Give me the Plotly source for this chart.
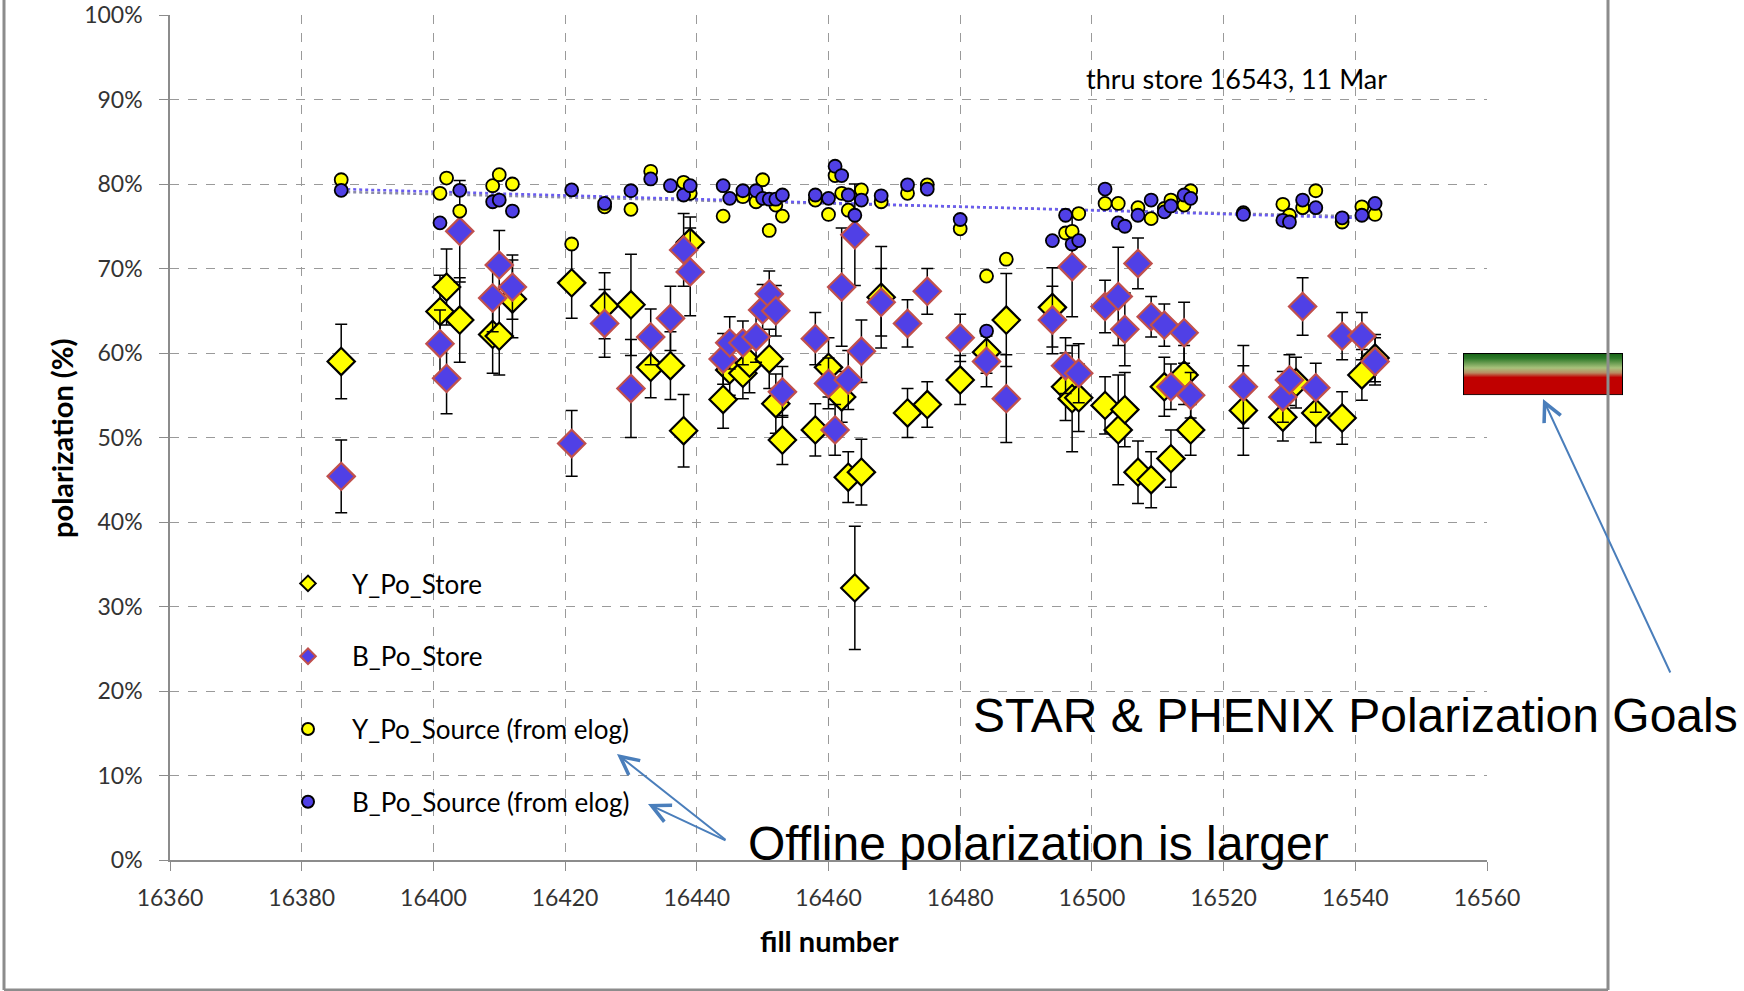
import base64
import numpy as np
import plotly.graph_objects as go

# ---------------- data ----------------
y_store_fill = [16386, 16401, 16402, 16404, 16409, 16410, 16412, 16421, 16426, 16430,
                16433, 16436, 16438, 16439, 16444, 16445, 16447, 16448, 16451, 16452,
                16453, 16458, 16460, 16462, 16463, 16465, 16464, 16468, 16472, 16475,
                16480, 16484, 16487, 16494, 16496, 16497, 16498, 16502, 16504, 16505,
                16507, 16509, 16511, 16512, 16514, 16515, 16523, 16529, 16531, 16534,
                16538, 16541, 16543]
y_store_pol = [59.0, 64.9, 67.8, 63.9, 62.2, 62.0, 66.4, 68.3, 65.6, 65.7,
               58.3, 58.5, 50.8, 73.1, 54.5, 58.0, 57.6, 58.8, 59.3, 54.0,
               49.7, 50.9, 58.3, 54.8, 45.3, 45.9, 32.2, 66.6, 52.9, 53.9,
               56.8, 60.1, 63.9, 65.4, 56.0, 54.6, 54.7, 53.8, 50.9, 53.3,
               45.9, 45.0, 56.0, 47.5, 57.4, 50.9, 53.2, 52.4, 56.5, 52.9,
               52.3, 57.4, 59.4]
y_store_err = [4.4, 4.3, 4.5, 5.0, 4.6, 4.6, 4.6, 4.2, 3.9, 6.0,
               3.6, 4.0, 4.3, 3.0, 3.4, 3.0, 3.0, 3.5, 3.5, 3.5,
               2.9, 3.1, 3.5, 3.0, 3.0, 3.9, 7.3, 6.0, 2.9, 2.7,
               2.9, 2.5, 5.5, 4.7, 4.0, 6.3, 4.0, 3.4, 6.5, 4.4,
               3.7, 3.3, 3.5, 3.4, 3.5, 3.0, 5.3, 2.8, 3.0, 3.5,
               3.1, 3.0, 2.8]

b_store_fill = [16386, 16401, 16402, 16404, 16409, 16410, 16412, 16421, 16426, 16430,
                16433, 16436, 16438, 16439, 16444, 16445, 16447, 16449, 16450, 16451,
                16452, 16453, 16458, 16460, 16461, 16462, 16463, 16464, 16465, 16468,
                16472, 16475, 16480, 16484, 16487, 16494, 16496, 16497, 16498, 16502,
                16504, 16505, 16507, 16509, 16511, 16512, 16514, 16515, 16523, 16529,
                16530, 16532, 16534, 16538, 16541, 16543]
b_store_pol = [45.4, 61.1, 57.0, 74.4, 66.5, 70.4, 67.8, 49.3, 63.5, 55.8,
               61.9, 64.1, 72.2, 69.6, 59.3, 61.2, 61.2, 61.9, 65.1, 67.0,
               65.0, 55.4, 61.7, 56.4, 50.9, 67.8, 56.8, 74.0, 60.2, 66.0,
               63.5, 67.3, 61.8, 59.0, 54.6, 63.9, 58.5, 70.2, 57.6, 65.5,
               66.7, 62.8, 70.6, 64.3, 63.3, 56.0, 62.4, 55.0, 56.0, 54.8,
               56.8, 65.5, 55.9, 62.0, 62.0, 59.0]
b_store_err = [4.3, 4.0, 4.2, 6.0, 4.0, 4.1, 3.8, 3.9, 4.0, 5.8,
               3.3, 3.8, 4.3, 5.2, 3.0, 3.1, 2.6, 3.0, 3.0, 2.7,
               3.0, 3.0, 3.1, 3.0, 3.0, 7.0, 3.5, 6.0, 3.7, 4.0,
               2.8, 2.7, 2.8, 3.0, 5.2, 4.0, 3.3, 5.9, 3.5, 3.1,
               5.8, 4.3, 3.0, 2.4, 2.5, 2.7, 3.6, 2.7, 4.9, 3.0,
               3.0, 3.4, 2.9, 2.8, 2.8, 2.8]

y_src_fill = [16386, 16401, 16402, 16404, 16409, 16410, 16412, 16421, 16426, 16430,
              16433, 16438, 16439, 16444, 16447, 16449, 16450, 16451, 16452, 16453,
              16458, 16460, 16461, 16462, 16463, 16465, 16468, 16472, 16475, 16480,
              16484, 16487, 16496, 16497, 16498, 16502, 16504, 16507, 16509, 16511,
              16512, 16514, 16515, 16523, 16529, 16530, 16532, 16534, 16538, 16541,
              16543]
y_src_pol = [80.5, 78.9, 80.7, 76.8, 79.8, 81.1, 80.0, 72.9, 77.3, 77.0,
             81.5, 80.2, 78.9, 76.2, 78.5, 77.9, 80.5, 74.5, 77.5, 76.2,
             78.1, 76.4, 81.0, 78.9, 76.9, 79.3, 77.9, 78.9, 79.9, 74.7,
             69.1, 71.1, 74.2, 74.4, 76.5, 77.7, 77.7, 77.2, 75.9, 77.1,
             78.1, 77.5, 79.2, 76.6, 77.6, 76.3, 77.2, 79.2, 75.5, 77.3,
             76.4]

b_src_fill = [16386, 16401, 16404, 16409, 16410, 16412, 16421, 16426, 16430, 16433,
              16436, 16438, 16439, 16444, 16445, 16447, 16449, 16450, 16451, 16452,
              16453, 16458, 16460, 16461, 16462, 16463, 16464, 16465, 16468, 16472,
              16475, 16480, 16484, 16494, 16496, 16497, 16498, 16502, 16504, 16505,
              16507, 16509, 16511, 16512, 16514, 16515, 16523, 16529, 16530, 16532,
              16534, 16538, 16541, 16543]
b_src_pol = [79.25, 75.4, 79.25, 77.9, 78.1, 76.8, 79.3, 77.7, 79.2, 80.6,
             79.8, 78.7, 79.8, 79.8, 78.3, 79.2, 79.2, 78.3, 78.2, 78.2,
             78.7, 78.7, 78.3, 82.1, 81.0, 78.7, 76.3, 78.1, 78.6, 79.9,
             79.4, 75.8, 62.6, 73.3, 76.3, 72.9, 73.3, 79.4, 75.4, 75.0,
             76.3, 78.1, 76.7, 77.4, 78.7, 78.3, 76.4, 75.7, 75.5, 78.1,
             77.2, 76.0, 76.3, 77.7]

x_ticks = [16360, 16380, 16400, 16420, 16440, 16460, 16480, 16500, 16520, 16540, 16560]
x_tick_labels = [str(v) for v in x_ticks]
y_ticks = [0, 10, 20, 30, 40, 50, 60, 70, 80, 90, 100]
y_tick_labels = [f"{v}%" for v in y_ticks]
goal_range = [55, 60]

# ---------------- styles ----------------
YEL = "#FFFF00"
BLU = "#5040E6"
BEDGE = "#C0504D"
TICKFONT = dict(family="Lato, Carlito, Calibri, sans-serif", size=23, color="#333333")
ARROW = "#4A7EBB"

fig = go.Figure()

# trendlines (linear fits of source values)
for fills, pols, col in [(y_src_fill, y_src_pol, "#8C8CA8"), (b_src_fill, b_src_pol, "#6A5CF0")]:
    k, c = np.polyfit(fills, pols, 1)
    xs = np.array([min(fills), max(fills)], dtype=float)
    fig.add_trace(go.Scatter(x=xs, y=k * xs + c, mode="lines", showlegend=False,
                             hoverinfo="skip",
                             line=dict(color=col, width=2.5, dash="dot")))

fig.add_trace(go.Scatter(
    x=y_store_fill, y=y_store_pol, mode="markers", name="Y_Po_Store", legendgroup="a",
    error_y=dict(type="data", array=y_store_err, color="black", thickness=1.5, width=6),
    marker=dict(symbol="diamond", size=21, color=YEL, line=dict(color="black", width=2.2))))
fig.add_trace(go.Scatter(
    x=b_store_fill, y=b_store_pol, mode="markers", name="B_Po_Store", legendgroup="b",
    error_y=dict(type="data", array=b_store_err, color="black", thickness=1.5, width=6),
    marker=dict(symbol="diamond", size=21, color=BLU, line=dict(color=BEDGE, width=2.2))))
fig.add_trace(go.Scatter(
    x=y_src_fill, y=y_src_pol, mode="markers", name="Y_Po_Source (from elog)", legendgroup="c",
    marker=dict(symbol="circle", size=13, color=YEL, line=dict(color="black", width=1.8))))
fig.add_trace(go.Scatter(
    x=b_src_fill, y=b_src_pol, mode="markers", name="B_Po_Source (from elog)", legendgroup="d",
    marker=dict(symbol="circle", size=13, color=BLU, line=dict(color="black", width=1.8))))

# ---- geometry helpers (paper coords from layout margins) ----
W, H = 1744, 991
ML, MR, MT, MB = 170, 257, 15, 131
PW, PH = W - ML - MR, H - MT - MB


def px(xp):
    return (xp - ML) / PW


def py(yp):
    return (H - MB - yp) / PH


shapes = [
    dict(type="line", xref="paper", yref="paper", x0=px(4), x1=px(4), y0=py(990), y1=py(-5),
         line=dict(color="#8C8C8C", width=3)),
    dict(type="line", xref="paper", yref="paper", x0=px(1608), x1=px(1608), y0=py(990), y1=py(-5),
         line=dict(color="#8C8C8C", width=3)),
    dict(type="line", xref="paper", yref="paper", x0=px(4), x1=px(1608), y0=py(990), y1=py(990),
         line=dict(color="#8C8C8C", width=3)),
]

# goal box as gradient image (green -> red) spanning goal_range
svg = ('<svg xmlns="http://www.w3.org/2000/svg" width="160" height="42" viewBox="0 0 160 42" '
       'preserveAspectRatio="none"><defs><linearGradient id="g" x1="0" y1="0" x2="0" y2="1">'
       '<stop offset="0" stop-color="#176317"/><stop offset="0.12" stop-color="#2F7A2A"/>'
       '<stop offset="0.35" stop-color="#A9C27C"/><stop offset="0.47" stop-color="#B98A62"/>'
       '<stop offset="0.58" stop-color="#C00000"/><stop offset="1" stop-color="#C00000"/>'
       '</linearGradient></defs><rect x="0.5" y="0.5" width="159" height="41" fill="url(#g)" '
       'stroke="#000" stroke-width="1"/></svg>')
src = "data:image/svg+xml;base64," + base64.b64encode(svg.encode()).decode()
images = [dict(source=src, xref="paper", yref="paper", x=px(1463), y=goal_range[1] / 100,
               sizex=px(1623) - px(1463), sizey=(goal_range[1] - goal_range[0]) / 100,
               xanchor="left", yanchor="top", sizing="stretch", layer="above")]

annotations = [
    dict(text="thru store 16543, 11 Mar", xref="paper", yref="paper", x=px(1084), y=py(79),
         xanchor="left", yanchor="middle", showarrow=False,
         font=dict(family="Lato, Carlito, sans-serif", size=27, color="black")),
    dict(text="STAR &amp; PHENIX Polarization Goals", xref="paper", yref="paper", x=px(971), y=py(715),
         xanchor="left", yanchor="middle", showarrow=False,
         font=dict(family="Liberation Sans, Arial, sans-serif", size=48, color="black")),
    dict(text="Offline polarization is larger", xref="paper", yref="paper", x=px(746), y=py(843),
         xanchor="left", yanchor="middle", showarrow=False,
         font=dict(family="Liberation Sans, Arial, sans-serif", size=48, color="black")),
    dict(text="", xref="paper", yref="paper", x=px(1543), y=py(399), ax=128, ay=275,
         showarrow=True, arrowhead=5, arrowsize=1.8, arrowwidth=2, arrowcolor=ARROW),
    dict(text="", xref="paper", yref="paper", x=px(617), y=py(754), ax=110, ay=87,
         showarrow=True, arrowhead=5, arrowsize=1.8, arrowwidth=2, arrowcolor=ARROW),
    dict(text="", xref="paper", yref="paper", x=px(648), y=py(804), ax=79, ay=37,
         showarrow=True, arrowhead=5, arrowsize=1.8, arrowwidth=2, arrowcolor=ARROW),
    dict(text="<b>polarization (%)</b>", xref="paper", yref="paper", x=px(61), y=py(438),
         textangle=-90, showarrow=False, xanchor="center", yanchor="middle",
         font=dict(family="Lato, Carlito, sans-serif", size=29, color="black")),
    dict(text="<b>fill number</b>", xref="paper", yref="paper", x=px(829), y=py(940),
         showarrow=False, xanchor="center", yanchor="middle",
         font=dict(family="Lato, Carlito, sans-serif", size=29, color="black")),
]

fig.update_layout(
    width=W, height=H, margin=dict(l=ML, r=MR, t=MT, b=MB, autoexpand=False),
    paper_bgcolor="white", plot_bgcolor="white",
    shapes=shapes, images=images, annotations=annotations,
    showlegend=True,
    legend=dict(x=px(264), y=py(560), xanchor="left", yanchor="top",
                bgcolor="rgba(0,0,0,0)", tracegroupgap=36, itemsizing="constant",
                itemwidth=78,
                font=dict(family="Lato, Carlito, sans-serif", size=26, color="black")),
    xaxis=dict(range=[16360, 16560], tickvals=x_ticks, ticktext=x_tick_labels, showgrid=True,
               gridcolor="#9A9A9A", griddash="dash", gridwidth=1, zeroline=False,
               showline=True, linecolor="#8C8C8C", linewidth=1.5, ticks="outside", ticklen=9,
               tickcolor="#8C8C8C", tickfont=TICKFONT, ticklabelstandoff=8),
    yaxis=dict(range=[0, 100], tickvals=y_ticks, ticktext=y_tick_labels, showgrid=True,
               gridcolor="#9A9A9A", griddash="dash", gridwidth=1, zeroline=False,
               showline=True, linecolor="#8C8C8C", linewidth=1.5, ticks="outside",
               ticklen=9, tickcolor="#8C8C8C", tickfont=TICKFONT, ticklabelstandoff=12),
)

fig.write_html("out.html", config={"displayModeBar": False},
               post_script="document.body.style.margin='0';")
